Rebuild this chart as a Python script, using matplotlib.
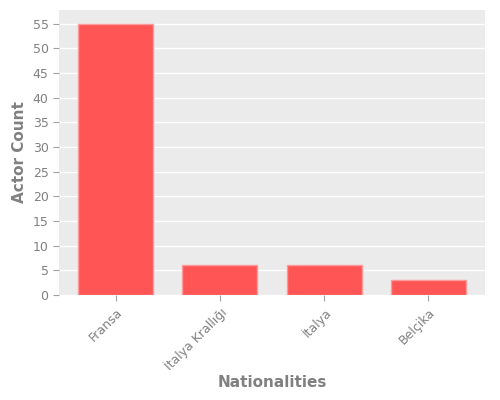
import matplotlib
matplotlib.use("Agg")
import matplotlib.pyplot as plt

categories = ["Fransa", "İtalya Krallığı", "İtalya", "Belçika"]
counts = [55, 6, 6, 3]

fig = plt.figure(figsize=(5, 4), dpi=100)
ax = fig.add_axes([0.118, 0.2625, 0.852, 0.7125])
ax.set_facecolor("#EBEBEB")
x = range(len(categories))
ax.bar(x, counts, width=0.72, color="#FF5555", edgecolor="#FF9A9A", linewidth=1, zorder=2)
ax.set_xticks(list(x))
ax.set_xticklabels(categories, rotation=45, ha="right", rotation_mode="anchor")
ax.set_yticks(range(0, 56, 5))
ax.grid(axis="y", color="white", linewidth=1, zorder=0)
ax.set_axisbelow(True)
for s in ax.spines.values():
    s.set_visible(False)
ax.tick_params(colors="#A0A0A0", labelcolor="#808080", labelsize=9, length=4)
ax.set_ylabel("Actor Count", fontsize=11, fontweight="bold", color="#808080")
ax.set_xlabel("Nationalities", fontsize=11, fontweight="bold", color="#808080", labelpad=1)
fig.savefig("out.png", dpi=100)
